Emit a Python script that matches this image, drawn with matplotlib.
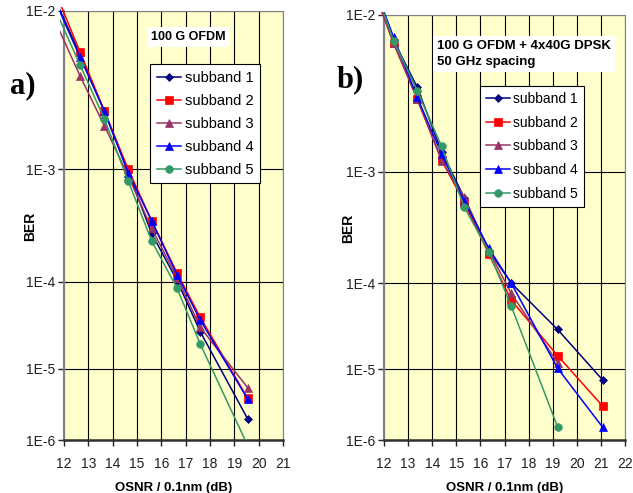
import numpy as np
import matplotlib
matplotlib.use("Agg")
import matplotlib.pyplot as plt
from matplotlib.patches import Rectangle

# ---------------- data ----------------
labels = ["subband 1", "subband 2", "subband 3", "subband 4", "subband 5"]

# panel a) 100 G OFDM
osnr_a = [11.7, 12.66, 13.66, 14.64, 15.6, 16.65, 17.6, 19.55]
ber_a_s1 = [1.1e-2, 5.8e-3, 2.6e-3, 9.5e-4, 2.92e-4, 1.02e-4, 2.84e-5, 2.06e-6]
ber_a_s2 = [1.2e-2, 6.0e-3, 2.61e-3, 1.0e-3, 3.8e-4, 1.22e-4, 4.14e-5, 4.05e-6]
ber_a_s3 = [8.5e-3, 4.35e-3, 2.07e-3, 8.9e-4, 3.24e-4, 1.1e-4, 3.19e-5, 5.65e-6]
ber_a_s4 = [1.08e-2, 5.6e-3, 2.6e-3, 9.4e-4, 3.78e-4, 1.17e-4, 3.86e-5, 3.95e-6]
ber_a_s5 = [9.8e-3, 5.05e-3, 2.31e-3, 8.1e-4, 2.5e-4, 8.5e-5, 2.03e-5, 8.2e-7]

# panel b) 100 G OFDM + 4x40G DPSK, 50 GHz spacing
osnr_b = [11.9, 12.4, 13.38, 14.39, 15.33, 16.35, 17.28, 19.2, 21.07]
ber_b_s1 = [1.1e-2, 7.3e-3, 3.88e-3, 1.42e-3, 6.2e-4, 2.1e-4, 1.0e-4, 3.1e-5, 7.3e-6]
ber_b_s2 = [1.05e-2, 7.05e-3, 3.27e-3, 1.23e-3, 5.65e-4, 1.95e-4, 6.6e-5, 1.5e-5, 3.2e-6]
ber_b_s3 = [1.05e-2, 7.05e-3, 3.27e-3, 1.22e-3, 6.26e-4, 2.1e-4, 7.8e-5, 1.22e-5, np.nan]
ber_b_s4 = [1.12e-2, 7.6e-3, 3.36e-3, 1.36e-3, 5.8e-4, 2.21e-4, 1.0e-4, 1.04e-5, 1.57e-6]
ber_b_s5 = [1.1e-2, 7.3e-3, 3.70e-3, 1.55e-3, 5.17e-4, 2.06e-4, 5.7e-5, 1.6e-6, np.nan]

ytick_vals = [1e-2, 1e-3, 1e-4, 1e-5, 1e-6]
ytick_labels = ["1E-2", "1E-3", "1E-4", "1E-5", "1E-6"]

colors = ["#000080", "#FF0000", "#993366", "#0000FF", "#339966"]
markers = ["D", "s", "^", "^", "o"]
msizes = [4.5, 5.5, 6, 6, 5.5]

# ---------------- scale ----------------
def fwd(y):
    y = np.asarray(y, dtype=float)
    with np.errstate(all="ignore"):
        return -np.log10(-np.log10(y))

def inv(v):
    v = np.asarray(v, dtype=float)
    with np.errstate(all="ignore"):
        return 10.0 ** (-(10.0 ** (-v)))

plt.rcParams["font.family"] = ["Liberation Sans", "DejaVu Sans"]

fig = plt.figure(figsize=(6.33, 4.93), dpi=100)

W, H = 633.0, 493.0
def axes_rect(x0, x1, y0, y1):
    return [x0 / W, 1 - y1 / H, (x1 - x0) / W, (y1 - y0) / H]

axA = fig.add_axes(axes_rect(64, 283, 11, 440))
axB = fig.add_axes(axes_rect(384, 625, 15, 440))

def style_axis(ax, xmax, clipx, clipy, ylab_xy):
    ax.set_facecolor("#FFFFCC")
    ax.set_yscale("function", functions=(fwd, inv))
    ax.set_ylim(1e-6, 1e-2)
    ax.set_xlim(12, xmax)
    ax.set_xticks(range(12, xmax + 1))
    ax.set_yticks(ytick_vals)
    ax.set_yticklabels(ytick_labels)
    ax.yaxis.set_minor_locator(matplotlib.ticker.NullLocator())
    ax.grid(True, color="black", linewidth=0.8)
    ax.set_axisbelow(True)
    ax.tick_params(axis="both", labelsize=10, colors="#202020", length=4,
                   width=1.0, direction="out")
    ax.tick_params(axis="x", pad=8)
    ax.tick_params(axis="y", pad=2)
    for s in ["top", "right"]:
        ax.spines[s].set_color("#808080")
        ax.spines[s].set_linewidth(0.8)
    ax.spines["left"].set_color("#808080")
    ax.spines["left"].set_linewidth(1.5)
    ax.spines["bottom"].set_color("#303030")
    ax.spines["bottom"].set_linewidth(1.8)
    ax.set_ylabel("BER", fontsize=10, fontweight="bold")
    ax.yaxis.set_label_coords(*ylab_xy)
    ax.set_xlabel("OSNR / 0.1nm (dB)", fontsize=9.5, fontweight="bold", labelpad=8)
    clip = Rectangle((-clipx, 0), 1 + clipx, 1 + clipy, transform=ax.transAxes,
                     facecolor="none", edgecolor="none")
    ax.add_patch(clip)
    return clip

clipA = style_axis(axA, 21, 0.018, 0.010, (-0.123, 0.497))
clipB = style_axis(axB, 22, 0.013, 0.008, (-0.120, 0.499))

for ax, clip, xs, series in [
    (axA, clipA, osnr_a, [ber_a_s1, ber_a_s2, ber_a_s3, ber_a_s4, ber_a_s5]),
    (axB, clipB, osnr_b, [ber_b_s1, ber_b_s2, ber_b_s3, ber_b_s4, ber_b_s5]),
]:
    for i, ys in enumerate(series):
        ys = np.array(ys, dtype=float)
        xs_arr = np.array(xs, dtype=float)
        ok = ~np.isnan(ys)
        line, = ax.plot(xs_arr[ok], ys[ok], color=colors[i], marker=markers[i],
                        markersize=msizes[i], linewidth=1.1, label=labels[i],
                        markeredgewidth=0.5, zorder=3 + i * 0.01)
        line.set_clip_path(clip)
        # hide marker on first (extrapolation) point
        line.set_markevery(list(range(1, ok.sum())))

legA = axA.legend(loc="upper left", bbox_to_anchor=(0.393, 0.876), fontsize=10.5,
                  frameon=True, fancybox=False, edgecolor="black", framealpha=1,
                  handlelength=1.7, handletextpad=0.25, labelspacing=0.62,
                  borderpad=0.45, borderaxespad=0)
legA.get_frame().set_linewidth(0.8)
legB = axB.legend(loc="upper left", bbox_to_anchor=(0.398, 0.834), fontsize=10,
                  frameon=True, fancybox=False, edgecolor="black", framealpha=1,
                  handlelength=1.7, handletextpad=0.25, labelspacing=0.7,
                  borderpad=0.45, borderaxespad=0)
legB.get_frame().set_linewidth(0.8)

# annotation boxes
fig.text(151 / W, 1 - 37 / H, "100 G OFDM", fontsize=9, fontweight="bold",
         va="center", ha="left",
         bbox=dict(facecolor="white", edgecolor="none", pad=3))
fig.text(437 / W, 1 - 54 / H, "100 G OFDM + 4x40G DPSK\n50 GHz spacing", fontsize=9.5,
         fontweight="bold", va="center", ha="left", linespacing=1.35,
         bbox=dict(facecolor="white", edgecolor="none", pad=3))

# panel letters
fig.text(10 / W, 1 - 86 / H, "a)", fontsize=22, fontweight="bold",
         family=["Liberation Serif", "DejaVu Serif"], va="center", ha="left")
fig.text(337 / W, 1 - 80 / H, "b)", fontsize=22, fontweight="bold",
         family=["Liberation Serif", "DejaVu Serif"], va="center", ha="left")

fig.savefig("out.png", dpi=100)
